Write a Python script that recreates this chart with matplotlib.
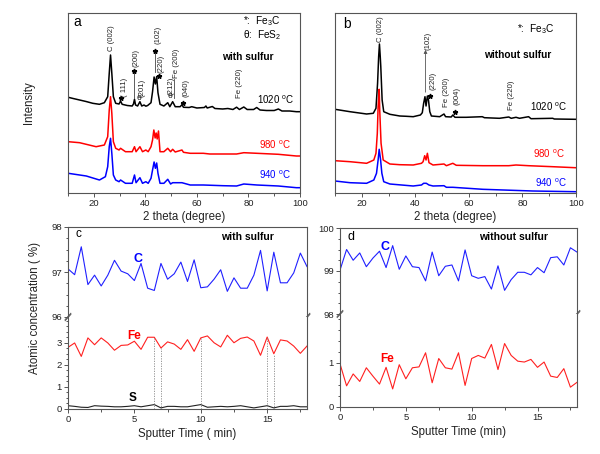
import matplotlib
matplotlib.use('Agg')
import matplotlib.pyplot as plt
from matplotlib.ticker import MultipleLocator, FixedLocator

plt.rcParams['font.family'] = ['Liberation Sans', 'DejaVu Sans']
plt.rcParams['mathtext.fontset'] = 'custom'
plt.rcParams['mathtext.rm'] = 'Liberation Sans'

# ---------------- XRD data (2 theta in degrees, intensity in a.u.) ----------------
a_black_2t = [10.1, 12, 14.5, 17, 19.6, 22.2, 24.1, 25.4, 26.0, 26.5, 27.0, 27.6, 28.5, 29.8, 30.4, 31.0,
              33, 34.9, 35.4, 35.8, 36.2, 37.0, 37.9, 38.6, 39.5, 40.2, 40.9, 42.2, 42.8, 43.4, 43.9,
              44.4, 44.9, 45.7, 47.2, 48.7, 49.5, 50.6, 51.6, 53.5, 54.2, 54.8, 57.0, 58, 60, 62.9, 63.5,
              64, 66, 67, 70, 72, 74, 75.4, 76.5, 78.2, 79.5, 82, 83.2, 84.5, 87, 90, 91.6, 93, 96, 98.6, 100]
a_black_I = [95.7, 94.5, 93, 91.5, 89.7, 88.7, 90.3, 96.3, 119.7, 138, 119.7, 96.3, 89.7, 89, 92, 88.7,
             87.5, 87, 89, 93.7, 88, 87, 91.3, 87, 88, 86.8, 87.5, 90.3, 101.3, 116, 109,
             116.5, 100.3, 88.7, 87, 90.3, 86.3, 91.3, 86.3, 86.3, 88.3, 85.7, 85.5, 86.3, 85, 85.5, 87,
             85, 86.5, 84.5, 84, 84.5, 83.5, 85.8, 83.5, 86, 83.5, 83.5, 85.5, 83, 82.5, 82.5, 84, 82, 82, 81.3, 81.3]

a_red_2t = [10.1, 14.5, 20.9, 24.1, 25.4, 26.0, 26.5, 27.0, 27.6, 28.5, 29.8, 30.4, 32.3, 34.9, 35.8, 36.4,
            37.9, 38.9, 40.2, 41.1, 42.2, 42.8, 43.3, 43.8, 44.2, 44.6, 45.1, 45.7, 47.2, 48.7, 49.8, 50.6,
            51.6, 54.2, 54.8, 57.4, 62.5, 65, 70.1, 75.4, 78.2, 83.3, 91.6, 98.6, 100]
a_red_I = [51.3, 50.3, 46.3, 48, 56.3, 83, 96.3, 79.7, 51.3, 44.7, 43, 44.7, 41.3, 41.3, 46.3, 41.3,
           46.3, 41.3, 43, 41.3, 46.3, 53, 63, 55, 60, 54, 62, 41.3, 41.3, 44.7, 41.3, 43.7,
           41, 43, 40.7, 39.7, 39.7, 39, 39, 39, 40.3, 39.7, 38.7, 37, 37]

a_blue_2t = [10.1, 17.1, 22.2, 24.5, 25.4, 26.0, 26.5, 27.0, 27.6, 28.5, 29.8, 30.4, 32.3, 34.9, 35.8, 36.4,
             37.9, 38.9, 40.2, 41.1, 42.2, 42.8, 43.4, 43.9, 44.4, 44.9, 45.7, 47.2, 48.7, 49.8, 50.6,
             54.2, 57.4, 62.5, 70.1, 75.4, 78.2, 83.3, 91.6, 98.6, 100]
a_blue_I = [19.7, 17, 13, 16.3, 26.3, 46.3, 54.7, 39.7, 18, 13, 11.3, 13, 9.7, 9.7, 18, 10.3,
            15.3, 9.7, 11.3, 9.7, 14.7, 23, 31, 24.7, 30, 19.7, 9.7, 9.7, 13.7, 9, 10.3,
            10.3, 8, 8, 7.3, 7, 9, 8, 7, 5.3, 5.3]

b_black_2t = [10.0, 15.6, 21.8, 24.3, 25.3, 25.9, 26.3, 26.6, 26.9, 27.1, 27.6, 28.2, 30.5, 34.2, 36.7, 39.2,
              41.9, 42.6, 43.1, 43.6, 44.0, 44.5, 44.9, 45.4, 46.0, 49.1, 50.7, 51.3, 53.4, 54.0, 54.8,
              59.0, 65.0, 65.8, 71.4, 74.9, 75.8, 77.6, 78.9, 82.3, 83.2, 91.3, 91.9, 99.7, 100]
b_black_I = [83.7, 81.3, 79, 79.7, 84.7, 109.7, 136.3, 149, 136.3, 126.3, 93, 81.3, 78.7, 77, 76.7, 76.3,
             78, 80.3, 89.7, 96.3, 87, 97, 93, 81.3, 77, 76.3, 79, 76.3, 76, 78, 75.7,
             75.7, 76.3, 75.3, 74.7, 76, 74.7, 75.7, 74.7, 76.3, 74.3, 74.7, 74, 73.7, 73.7]

b_red_2t = [10.0, 15.6, 21.8, 24.5, 25.3, 25.8, 26.1, 26.5, 26.7, 27.2, 28.0, 30.5, 34.2, 39.2, 42.3, 42.9,
            43.5, 44.0, 44.5, 45.1, 46.6, 50.7, 51.6, 54.0, 55.3, 65.2, 74.9, 77.6, 82.3, 91.3, 99.7, 100]
b_red_I = [32.3, 31.3, 29.7, 33, 39.7, 59.7, 86.3, 103.7, 83, 49.7, 33, 29, 28.3, 28, 29.7, 31.3,
           37.3, 33, 39.7, 30.3, 28, 29, 27.3, 29.7, 27.7, 27.3, 27.3, 28, 27.3, 26.3, 25.3, 25.3]

b_blue_2t = [10.0, 15.6, 21.8, 24.5, 25.5, 26.1, 26.5, 27.0, 27.5, 28.2, 30.5, 39.2, 42.3, 43.1, 44.1, 45.1,
             46.6, 50.7, 51.6, 54.0, 65.2, 83.8, 99.7, 100]
b_blue_I = [12, 10.3, 9.7, 13, 19.7, 33, 43.7, 33.7, 19.7, 11.3, 9, 7, 8, 9.7, 9.7, 8,
            7, 7.3, 5.7, 5.7, 3.7, 2, 1.3, 1.3]

# ---------------- XPS depth profile data ----------------
sputter_time = [0, 0.5, 1, 1.5, 2, 2.5, 3, 3.5, 4, 4.5, 5, 5.5, 6, 6.5, 7, 7.5, 8, 8.5, 9, 9.5,
                10, 10.5, 11, 11.5, 12, 12.5, 13, 13.5, 14, 14.5, 15, 15.5, 16, 16.5, 17, 17.5, 18]
c_C = [97.07, 96.94, 97.56, 96.72, 96.93, 96.69, 96.93, 97.26, 97.02, 96.96, 96.81, 97.19, 96.64, 96.59,
       97.19, 96.84, 96.96, 97.22, 96.79, 97.27, 96.65, 96.67, 96.84, 97.05, 96.57, 96.87, 96.64, 96.64,
       96.93, 97.48, 96.58, 97.44, 96.76, 96.76, 96.98, 97.42, 97.12]
c_Fe = [2.80, 3.0, 2.39, 3.23, 2.92, 3.23, 3.0, 2.67, 2.89, 2.91, 3.08, 2.71, 3.26, 3.26, 2.77, 3.05,
        2.95, 2.71, 3.15, 2.62, 3.23, 3.32, 3.01, 2.82, 3.35, 3.01, 3.21, 3.27, 3.09, 2.44, 3.27, 2.51,
        3.14, 3.09, 2.86, 2.53, 2.86]
c_S = [0.15, 0.12, 0.08, 0.07, 0.15, 0.13, 0.12, 0.10, 0.10, 0.12, 0.15, 0.10, 0.15, 0.20, 0.05, 0.12,
       0.12, 0.10, 0.10, 0.15, 0.20, 0.08, 0.10, 0.12, 0.10, 0.12, 0.15, 0.10, 0.05, 0.10, 0.15, 0.05,
       0.12, 0.12, 0.15, 0.10, 0.10]
c_marked_times = [6.5, 7.0, 10.0, 15.0, 15.5]
d_C = [99.02, 99.5, 99.25, 99.42, 99.1, 99.3, 99.46, 99.08, 99.59, 99.04, 99.35, 99.1, 99.08, 98.77,
       99.44, 98.89, 99.11, 99.14, 98.77, 99.49, 98.89, 98.83, 98.87, 98.58, 99.12, 98.55, 98.8, 98.97,
       98.97, 98.91, 99.08, 98.96, 99.31, 99.33, 99.14, 99.54, 99.44]
d_Fe = [0.98, 0.48, 0.75, 0.58, 0.89, 0.7, 0.52, 0.9, 0.41, 0.96, 0.64, 0.89, 0.91, 1.23, 0.55, 1.1,
        0.89, 0.86, 1.23, 0.49, 1.1, 1.17, 1.11, 1.42, 0.85, 1.44, 1.17, 1.04, 1.02, 1.08, 0.9, 1.02,
        0.7, 0.67, 0.87, 0.45, 0.56]
c_upper_ticks = [96, 97, 98]
c_lower_ticks = [0, 1, 2, 3]
d_upper_ticks = [98, 99, 100]
d_lower_ticks = [0, 1]

W, H = 600, 454
fig = plt.figure(figsize=(6, 4.54), dpi=100)


def rect(l, t, r, b):
    return [l / W, 1 - b / H, (r - l) / W, (b - t) / H]


SP = '#555555'
TFS = 6.8
LBL = 8.3


def style_xrd(ax):
    for s in ax.spines.values():
        s.set_color(SP)
        s.set_linewidth(0.8)
    ax.set_xlim(10, 100)
    ax.set_ylim(0, 180)
    ax.xaxis.set_major_locator(MultipleLocator(20))
    ax.xaxis.set_minor_locator(MultipleLocator(10))
    ax.tick_params(axis='x', which='both', direction='out', colors=SP, labelcolor='#222222',
                   labelsize=TFS, length=3, width=0.7, pad=1.5)
    ax.tick_params(axis='x', which='minor', length=2)
    ax.set_yticks([])
    ax.set_xlabel('2 theta (degree)', fontsize=LBL, labelpad=2, color='#222222')


# ---------------- panel a ----------------
axa = fig.add_axes(rect(68, 13, 300, 193))
style_xrd(axa)
axa.plot(a_black_2t, a_black_I, color='black', lw=1.1)
axa.plot(a_red_2t, a_red_I, color='#ff0000', lw=1.1)
axa.plot(a_blue_2t, a_blue_I, color='#0000ff', lw=1.1)
axa.set_ylabel('Intensity', fontsize=LBL, labelpad=24, color='#222222')

rf = 5.6
kw = dict(rotation=90, ha='center', va='bottom', fontsize=rf, color='#222222')
axa.text(0.022, 0.95, 'a', transform=axa.transAxes, fontsize=10, va='center')
axa.text(0.754, 0.955, '*:  Fe$_3$C', transform=axa.transAxes, fontsize=7.3, va='center')
axa.text(0.754, 0.878, 'θ:  FeS$_2$', transform=axa.transAxes, fontsize=7.3, va='center')
axa.text(0.664, 0.756, 'with sulfur', transform=axa.transAxes, fontsize=7.3, va='center', fontweight='bold')
axa.text(26.8, 142, 'C (002)', **kw)
axa.plot([30.4], [95], marker='*', ms=3.5, color='black')
axa.text(31.9, 96, '( 111)', **kw)
axa.plot([35.6, 35.6], [95, 122], color='#444444', lw=0.6)
axa.plot([35.6], [122], marker='*', ms=3.5, color='black')
axa.text(36.2, 126, '(200)', **kw)
axa.text(37.5, 94, 'θ', fontsize=rf + 0.5, ha='center', va='center')
axa.text(38.7, 96, '(201)', **kw)
axa.plot([43.6, 43.6], [121, 142], color='#444444', lw=0.6)
axa.plot([43.6], [142], marker='*', ms=3.5, color='black')
axa.text(45.1, 149, '(102)', **kw)
axa.plot([45.2], [117], marker='*', ms=3.5, color='black')
axa.text(45.9, 120, '(220)', **kw)
axa.text(49.6, 96, 'θ', fontsize=rf + 0.5, ha='center', va='center')
axa.text(50.0, 98, '(212)', **kw)
axa.plot([51.2, 51.2], [95, 114], color='#444444', lw=0.6)
axa.text(51.9, 115, 'Fe (200)', **kw)
axa.plot([54.7], [90], marker='*', ms=3.5, color='black')
axa.text(55.9, 96, '(040)', **kw)
axa.text(76.5, 95, 'Fe (220)', **kw)
axa.text(83.3, 93, '1020 $^{\\rm o}$C', fontsize=7, va='center', color='black')
axa.text(84.0, 48, '980 $^{\\rm o}$C', fontsize=7, va='center', color='#ff0000')
axa.text(84.0, 18, '940 $^{\\rm o}$C', fontsize=7, va='center', color='#0000ff')

# ---------------- panel b ----------------
axb = fig.add_axes(rect(335, 13, 576, 193))
style_xrd(axb)
axb.plot(b_black_2t, b_black_I, color='black', lw=1.1)
axb.plot(b_red_2t, b_red_I, color='#ff0000', lw=1.1)
axb.plot(b_blue_2t, b_blue_I, color='#0000ff', lw=1.1)
axb.text(0.032, 0.94, 'b', transform=axb.transAxes, fontsize=10, va='center')
axb.text(0.754, 0.91, '*:  Fe$_3$C', transform=axb.transAxes, fontsize=7.3, va='center')
axb.text(0.618, 0.767, 'without sulfur', transform=axb.transAxes, fontsize=7.3, va='center', fontweight='bold')
axb.text(26.9, 151, 'C (002)', **kw)
axb.annotate('', xy=(43.8, 146), xytext=(43.8, 98),
             arrowprops=dict(arrowstyle='-|>', color='#555555', lw=0.6, mutation_scale=5))
axb.text(44.9, 143, '(102)', **kw)
axb.plot([45.4], [97], marker='*', ms=3.5, color='black')
axb.text(46.5, 103, '(220)', **kw)
axb.text(51.5, 86, 'Fe (200)', **kw)
axb.plot([54.7], [81], marker='*', ms=3.5, color='black')
axb.text(55.5, 88, '(004)', **kw)
axb.text(75.8, 83, 'Fe (220)', **kw)
axb.text(82.9, 86.3, '1020 $^{\\rm o}$C', fontsize=7, va='center', color='black')
axb.text(84.0, 39.7, '980 $^{\\rm o}$C', fontsize=7, va='center', color='#ff0000')
axb.text(84.8, 10.3, '940 $^{\\rm o}$C', fontsize=7, va='center', color='#0000ff')


# ---------------- broken-axis helpers ----------------
def style_broken(top, bot, ylim_top, ylim_bot, ticks_top, ticks_bot):
    for ax in (top, bot):
        for s in ax.spines.values():
            s.set_color(SP)
            s.set_linewidth(0.8)
        ax.set_xlim(0, 18)
        ax.tick_params(axis='both', which='both', direction='out', colors=SP, labelcolor='#222222',
                       labelsize=TFS, length=3, width=0.7, pad=1.5)
        ax.tick_params(which='minor', length=1.8)
        ax.tick_params(axis='y', right=False)
    top.spines['bottom'].set_visible(False)
    bot.spines['top'].set_visible(False)
    top.set_ylim(*ylim_top)
    bot.set_ylim(*ylim_bot)
    top.tick_params(axis='x', which='both', bottom=False, labelbottom=False)
    top.yaxis.set_major_locator(FixedLocator(ticks_top))
    top.yaxis.set_minor_locator(MultipleLocator(0.25))
    bot.yaxis.set_major_locator(FixedLocator(ticks_bot))
    bot.yaxis.set_minor_locator(MultipleLocator(0.25))
    bot.xaxis.set_major_locator(MultipleLocator(5))
    bot.xaxis.set_minor_locator(MultipleLocator(2.5))
    # break marks
    d = 0.012
    for x in (0, 1):
        for off in (-0.006, 0.006):
            top.plot([x - d, x + d], [off - 0.035, off + 0.035], transform=top.transAxes,
                     color=SP, lw=0.7, clip_on=False)


# ---------------- panel c ----------------
axc_t = fig.add_axes(rect(68, 227, 307, 317))
axc_b = fig.add_axes(rect(68, 317, 307, 409))
style_broken(axc_t, axc_b, (96, 98), (0, 4.18), c_upper_ticks, c_lower_ticks)
axc_t.plot(sputter_time, c_C, color='#2020ff', lw=0.8)
axc_b.plot(sputter_time, c_Fe, color='#ff2020', lw=0.8)
axc_b.plot(sputter_time, c_S, color='#222222', lw=0.8)
for tm in c_marked_times:
    v = c_Fe[sputter_time.index(tm)]
    axc_b.plot([tm, tm], [0, v], color='#888888', lw=0.6, ls=(0, (1.5, 1.5)))
axc_t.text(0.03, 0.92, 'c', transform=axc_t.transAxes, fontsize=8.5, va='center')
axc_t.text(0.64, 0.89, 'with sulfur', transform=axc_t.transAxes, fontsize=7.5, va='center', fontweight='bold')
axc_t.text(5.3, 97.28, 'C', color='#0000ff', fontsize=9, fontweight='bold', ha='center', va='center')
axc_b.text(4.95, 3.3, 'Fe', color='#ff0000', fontsize=8.5, fontweight='bold', ha='center', va='center')
axc_b.text(4.85, 0.5, 'S', color='black', fontsize=8.5, fontweight='bold', ha='center', va='center')
axc_b.set_xlabel('Sputter Time ( min)', fontsize=LBL, labelpad=3, color='#222222')
fig.text(35 / W, 1 - 308 / H, 'Atomic concentration ( %)', rotation=90, fontsize=LBL,
         ha='center', va='center', color='#222222')

# ---------------- panel d ----------------
axd_t = fig.add_axes(rect(340, 228, 577, 314))
axd_b = fig.add_axes(rect(340, 314, 577, 407))
style_broken(axd_t, axd_b, (98, 100), (0, 2.11), d_upper_ticks, d_lower_ticks)
axd_t.plot(sputter_time, d_C, color='#2020ff', lw=0.8)
axd_b.plot(sputter_time, d_Fe, color='#ff2020', lw=0.8)
axd_t.text(0.03, 0.89, 'd', transform=axd_t.transAxes, fontsize=9, va='center')
axd_t.text(0.585, 0.89, 'without sulfur', transform=axd_t.transAxes, fontsize=7.5, va='center', fontweight='bold')
axd_t.text(3.45, 99.55, 'C', color='#0000ff', fontsize=9, fontweight='bold', ha='center', va='center')
axd_b.text(3.6, 1.1, 'Fe', color='#ff0000', fontsize=8.5, fontweight='bold', ha='center', va='center')
axd_b.set_xlabel('Sputter Time (min)', fontsize=LBL, labelpad=3, color='#222222')

fig.savefig('out.png', dpi=100)
